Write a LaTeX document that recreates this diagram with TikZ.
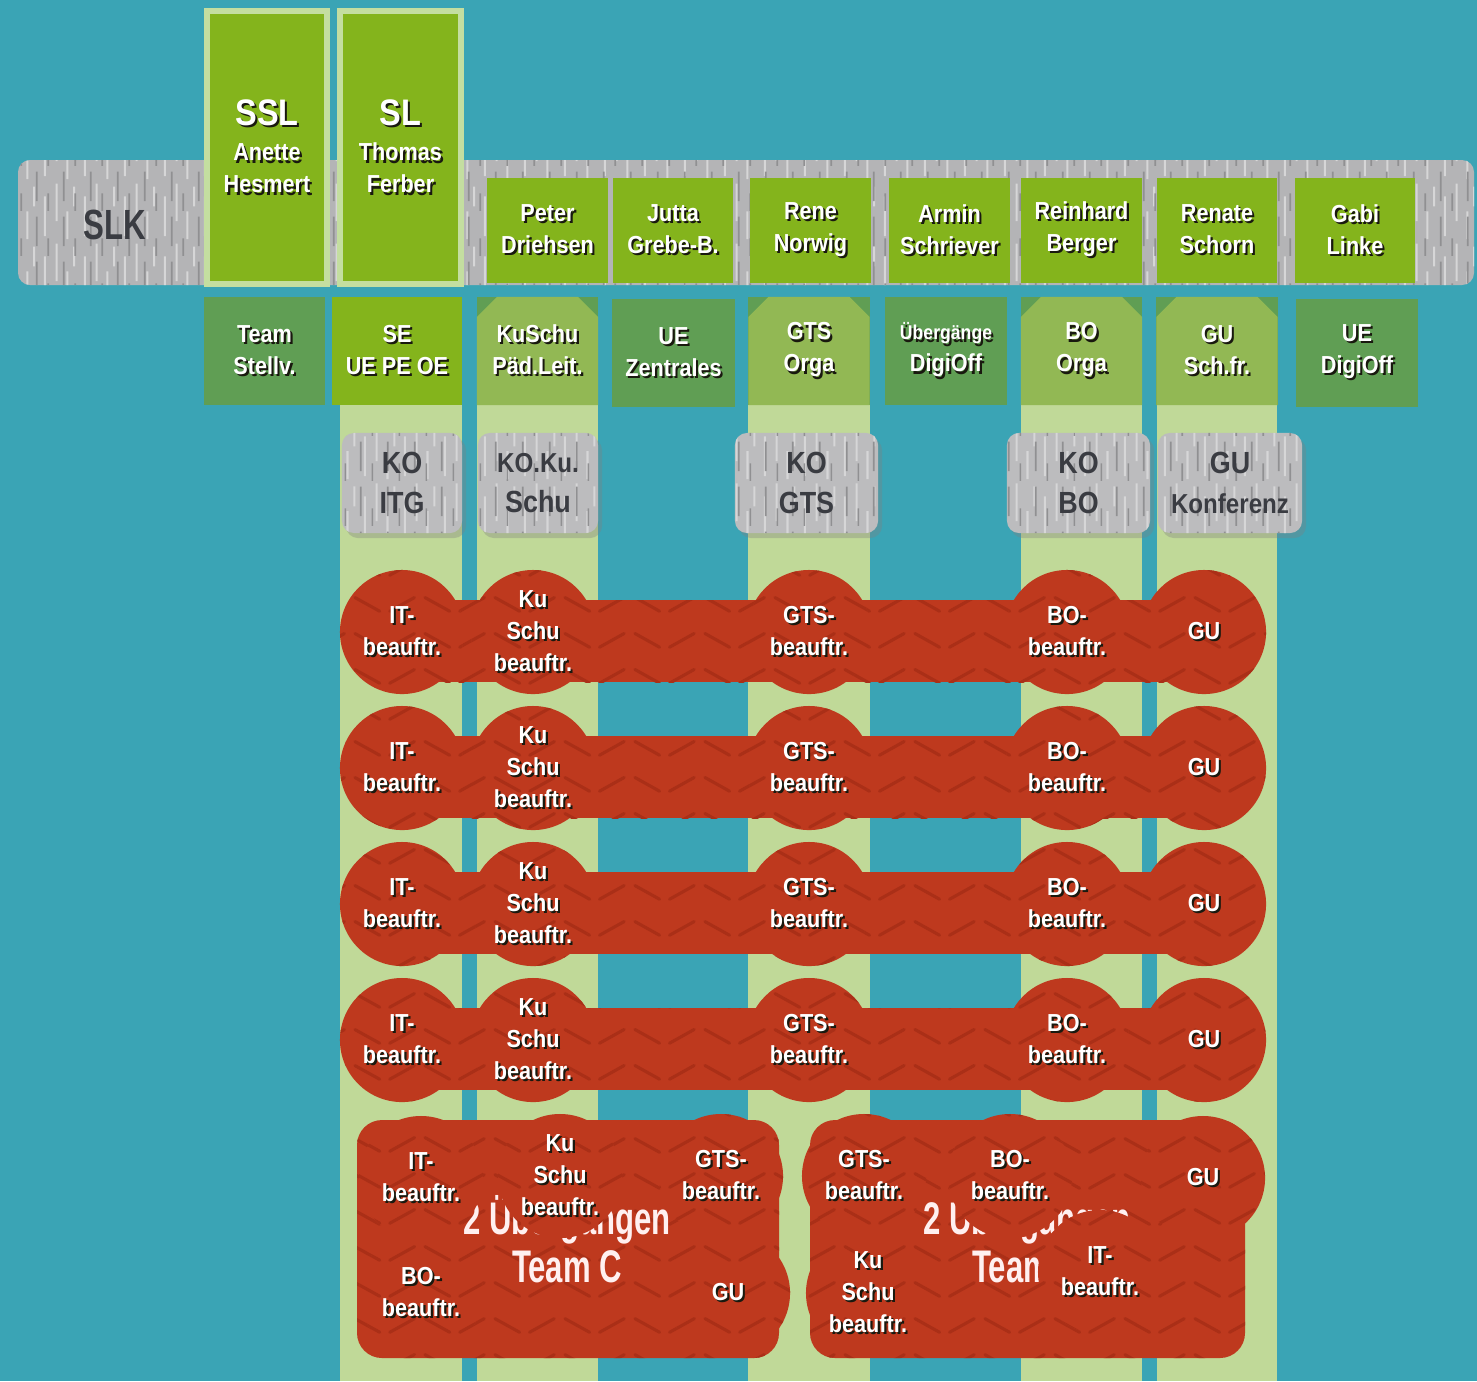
\documentclass[tikz,border=0pt]{standalone}
\usepackage{fontspec}
\setmainfont{Liberation Sans}[FakeStretch=0.88]
\newfontfamily\cnd{Liberation Sans}[FakeStretch=0.74]
\newfontfamily\cnb{Liberation Sans}[FakeStretch=0.68]
\usetikzlibrary{shadows,patterns}

\definecolor{bgteal}{RGB}{58,164,181}
\definecolor{slkgray}{RGB}{180,180,182}
\definecolor{nmgreen}{RGB}{132,180,28}
\definecolor{rimgreen}{RGB}{196,222,160}
\definecolor{fngreen}{RGB}{96,158,84}
\definecolor{olgreen}{RGB}{146,184,84}
\definecolor{strgreen}{RGB}{192,217,152}
\definecolor{kogray}{RGB}{188,188,190}
\definecolor{kotxt}{RGB}{58,60,66}
\definecolor{rdred}{RGB}{190,57,30}
\definecolor{rdpat}{RGB}{170,47,23}
\definecolor{shd}{RGB}{25,25,15}

\pgfdeclarepatternformonly{chev}{\pgfpointorigin}{\pgfpoint{0.7cm}{0.36cm}}{\pgfpoint{0.7cm}{0.36cm}}{
  \pgfsetlinewidth{0.9pt}\pgfsetroundcap
  \pgfpathmoveto{\pgfpoint{0.05cm}{0.28cm}}\pgfpathlineto{\pgfpoint{0.3cm}{0.14cm}}
  \pgfpathmoveto{\pgfpoint{0.4cm}{0.14cm}}\pgfpathlineto{\pgfpoint{0.65cm}{0.28cm}}
  \pgfusepath{stroke}}
\pgfdeclarepatternformonly{streak}{\pgfpointorigin}{\pgfpoint{0.4cm}{0.6cm}}{\pgfpoint{0.4cm}{0.6cm}}{
  \pgfsetlinewidth{0.6pt}
  \pgfpathmoveto{\pgfpoint{0.05cm}{0.05cm}}\pgfpathlineto{\pgfpoint{0.05cm}{0.45cm}}
  \pgfpathmoveto{\pgfpoint{0.17cm}{0.2cm}}\pgfpathlineto{\pgfpoint{0.17cm}{0.58cm}}
  \pgfpathmoveto{\pgfpoint{0.28cm}{0.02cm}}\pgfpathlineto{\pgfpoint{0.28cm}{0.3cm}}
  \pgfpathmoveto{\pgfpoint{0.35cm}{0.35cm}}\pgfpathlineto{\pgfpoint{0.35cm}{0.55cm}}
  \pgfusepath{stroke}}
\pgfdeclarepatternformonly{streakb}{\pgfpointorigin}{\pgfpoint{0.27cm}{0.45cm}}{\pgfpoint{0.27cm}{0.45cm}}{
  \pgfsetlinewidth{0.5pt}
  \pgfpathmoveto{\pgfpoint{0.1cm}{0.1cm}}\pgfpathlineto{\pgfpoint{0.1cm}{0.4cm}}
  \pgfpathmoveto{\pgfpoint{0.22cm}{0cm}}\pgfpathlineto{\pgfpoint{0.22cm}{0.18cm}}
  \pgfusepath{stroke}}

\newcommand\sh[1]{\leavevmode\rlap{\kern0.6pt\raisebox{-0.6pt}{\textcolor{shd}{#1}}}#1}
\newcommand\tx{\fontsize{7}{9.1}\selectfont\bfseries}
\newcommand\kx{\fontsize{8.7}{11.3}\selectfont\bfseries}
\newcommand\kxs{\fontsize{7.8}{11.3}\selectfont}

\pgfdeclarelayer{back}
\pgfdeclarelayer{bars}
\pgfsetlayers{back,bars,main}

\begin{document}
\begin{tikzpicture}[x=0.01cm, y=-0.01cm,
  nm/.style={fill=nmgreen, text=white, font=\tx, align=center, inner sep=0pt,
    minimum width=1.2cm, minimum height=1.05cm},
  lead/.style={nm, draw=rimgreen, line width=0.06cm, minimum height=2.73cm},
  fn/.style={nm, fill=fngreen, minimum width=1.21cm, minimum height=1.08cm},
  fo/.style={fn, path picture={\fill[olgreen]
    ([yshift=-0.2cm]path picture bounding box.north west) --
    ([xshift=0.2cm]path picture bounding box.north west) --
    ([xshift=-0.2cm]path picture bounding box.north east) --
    ([yshift=-0.2cm]path picture bounding box.north east) --
    (path picture bounding box.south east) --
    (path picture bounding box.south west) -- cycle;}},
  grain/.style={postaction={pattern=streak, pattern color=slkgray!55!white},
    postaction={pattern=streakb, pattern color=slkgray!80!black}},
  ko/.style={fill=kogray, text=kotxt, font=\kx, align=center, inner sep=0pt,
    rounded corners=0.12cm, minimum width=1.2cm, minimum height=1cm, grain,
    drop shadow={opacity=0.35, shadow xshift=0.04cm, shadow yshift=-0.05cm}},
  tread/.style={postaction={pattern=chev, pattern color=rdpat}},
  rc/.style={circle, fill=rdred, tread, text=white, font=\tx, align=center,
    inner sep=0pt, minimum size=1.24cm},
  big/.style={text=white!94!red, font={\fontsize{13}{13.6}\cnb\bfseries},
    align=center}]
\useasboundingbox (0,0) rectangle (1477,1381);

\begin{pgfonlayer}{back}
\fill[bgteal] (0,0) rectangle (1477,1381);
\foreach \a/\b in {340/462,477/598,748/870,1021/1142,1157/1277}
  \fill[strgreen] (\a,297) rectangle (\b,1381);
\end{pgfonlayer}

% SLK bar
\fill[slkgray, grain, rounded corners=0.12cm] (18,160) rectangle (1474,285);
\node[text=kotxt, font={\fontsize{12}{14}\cnd\bfseries}] (slk) at (115,225) {SLK};

% leitung
\node[lead] (ssl) at (267,147.5) {{\fontsize{10.5}{12}\selectfont\sh{SSL}}\\[1pt]\sh{Anette}\\\sh{Hesmert}};
\node[lead] (sl) at (400.5,147.5) {{\fontsize{10.5}{12}\selectfont\sh{SL}}\\[1pt]\sh{Thomas}\\\sh{Ferber}};

% names
\node[nm] (pd) at (547.5,230.5) {\sh{Peter}\\\sh{Driehsen}};
\node[nm] (jg) at (673,230.5) {\sh{Jutta}\\\sh{Grebe-B.}};
\node[nm] (rn) at (810.5,230.5) {\sh{Rene}\\\sh{Norwig}};
\node[nm] (as) at (949.5,230.5) {\sh{Armin}\\\sh{Schriever}};
\node[nm] (rb) at (1081.5,230.5) {\sh{Reinhard}\\\sh{Berger}};
\node[nm] (rs) at (1217,230.5) {\sh{Renate}\\\sh{Schorn}};
\node[nm] (gl) at (1355,230.5) {\sh{Gabi}\\\sh{Linke}};

% functions
\node[fn] (ts) at (264.5,351) {\sh{Team}\\\sh{Stellv.}};
\node[fn, fill=nmgreen, minimum width=1.3cm] (se) at (397,351) {\sh{SE}\\\sh{UE PE OE}};
\node[fo] (ks) at (537.5,351) {\sh{KuSchu}\\\sh{Päd.Leit.}};
\node[fn, minimum width=1.23cm] (uz) at (673.5,353) {\sh{UE}\\\sh{Zentrales}};
\node[fo] (gts) at (809,351) {\sh{GTS}\\\sh{Orga}};
\node[fn] (ud) at (946,351) {{\fontsize{5.7}{8}\selectfont\sh{Übergänge}}\\\sh{DigiOff}};
\node[fo] (bo) at (1081.5,351) {\sh{BO}\\\sh{Orga}};
\node[fo] (gu) at (1217,351) {\sh{GU}\\\sh{Sch.fr.}};
\node[fn, minimum width=1.22cm] (ue) at (1357,353) {\sh{UE}\\\sh{DigiOff}};

% konferenzen
\node[ko] (koitg) at (402,483) {KO\\ITG};
\node[ko] (koks) at (538,483) {{\kxs KO.Ku.}\\Schu};
\node[ko, minimum width=1.43cm] (kogts) at (806.5,483) {KO\\GTS};
\node[ko, minimum width=1.43cm] (kobo) at (1078.5,483) {KO\\BO};
\node[ko, minimum width=1.44cm] (gukonf) at (1230,483) {GU\\{\kxs Konferenz}};

% beauftragte
\foreach \r/\y in {1/632,2/768,3/904,4/1040}{
  \node[rc] (it\r) at (402,\y) {\sh{IT-}\\\sh{beauftr.}};
  \node[rc] (ku\r) at (533,\y) {\sh{Ku}\\\sh{Schu}\\\sh{beauftr.}};
  \node[rc] (gt\r) at (809,\y) {\sh{GTS-}\\\sh{beauftr.}};
  \node[rc] (bb\r) at (1067,\y) {\sh{BO-}\\\sh{beauftr.}};
  \node[rc] (gg\r) at (1204,\y) {\sh{GU}};
  \begin{pgfonlayer}{bars}
    \fill[rdred, tread] ([yshift=0.32cm]it\r.center) rectangle ([yshift=-0.5cm]gg\r.center);
  \end{pgfonlayer}
}

% Team C
\fill[rdred, tread, rounded corners=0.25cm] (357,1120) rectangle (779,1358);
\node[big] (tmc) at (567,1239) {2 Übergängen\\Team C};
\node[rc] (cit) at (421,1178) {\sh{IT-}\\\sh{beauftr.}};
\node[rc] (cku) at (560,1176) {\sh{Ku}\\\sh{Schu}\\\sh{beauftr.}};
\node[rc] (cgt) at (721,1176) {\sh{GTS-}\\\sh{beauftr.}};
\node[rc] (cbo) at (421,1293) {\sh{BO-}\\\sh{beauftr.}};
\node[rc] (cgu) at (728,1293) {\sh{GU}};

% Team D
\fill[rdred, tread, rounded corners=0.25cm] (810,1120) rectangle (1245,1358);
\node[big] (tmd) at (1027,1239) {2 Übergängen\\Team D};
\node[rc] (dgt) at (864,1176) {\sh{GTS-}\\\sh{beauftr.}};
\node[rc] (dbo) at (1010,1176) {\sh{BO-}\\\sh{beauftr.}};
\node[rc] (dgu) at (1203,1178) {\sh{GU}};
\node[rc] (dku) at (868,1293) {\sh{Ku}\\\sh{Schu}\\\sh{beauftr.}};
\node[rc] (dit) at (1100,1272) {\sh{IT-}\\\sh{beauftr.}};
\end{tikzpicture}
\end{document}
